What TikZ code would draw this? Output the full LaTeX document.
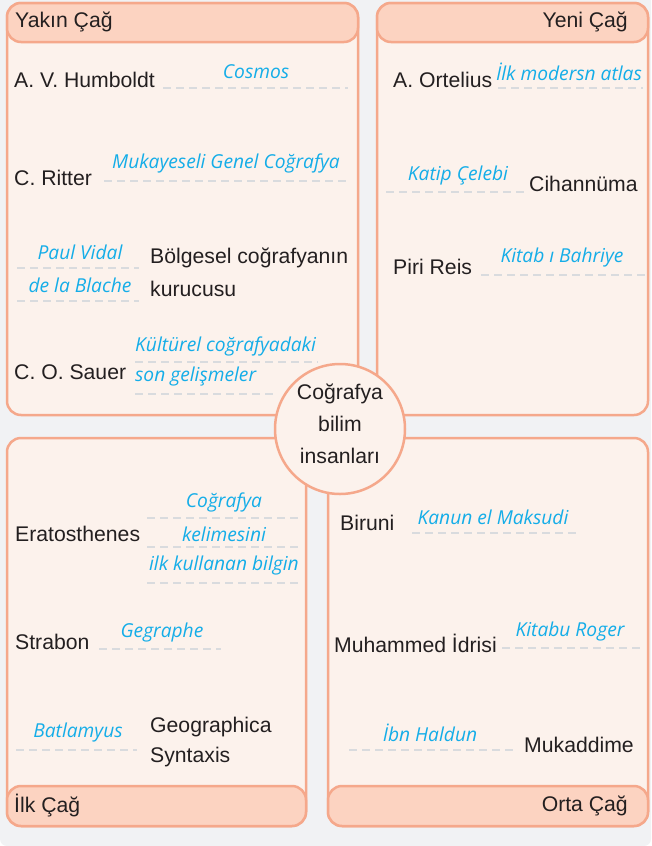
\documentclass[tikz,border=0pt]{standalone}
\usepackage{fontspec}
\setmainfont{Liberation Sans}
\newfontfamily\blufam{Open Sans}
\definecolor{bggray}{HTML}{F1F2F4}
\definecolor{salmon}{HTML}{F5A88B}
\definecolor{cream}{HTML}{FCF2EC}
\definecolor{peach}{HTML}{FCD3C1}
\definecolor{ink}{HTML}{231F20}
\definecolor{sky}{HTML}{14ADE8}
\definecolor{dashgray}{HTML}{D9DBDE}
\tikzset{
  panel/.style={draw=salmon, line width=2.5pt, fill=cream, rounded corners=14pt},
  header/.style={draw=salmon, line width=2.5pt, fill=peach, rounded corners=14pt},
  lbl/.style={font=\fontsize{21.2}{24}\selectfont, text=ink, inner sep=0pt, anchor=west},
  lblr/.style={font=\fontsize{21.2}{24}\selectfont, text=ink, inner sep=0pt, anchor=east},
  blu/.style={font=\blufam\itshape\fontsize{19.2}{22}\selectfont, text=sky, inner sep=0pt},
  dl/.style={draw=dashgray, line width=2pt, dash pattern=on 8pt off 5pt}
}
\begin{document}
\begin{tikzpicture}[x=1pt,y=-1pt]
\useasboundingbox (0,0) rectangle (651,846);
\fill[bggray, rounded corners=7pt] (0,-20) rectangle (651,846);

% ---------- panels ----------
\draw[panel] (7,3) rectangle (358,415);
\draw[header] (7,3) rectangle (358,42);
\draw[panel] (377,3) rectangle (648,415);
\draw[header] (377,3) rectangle (648,42);
\draw[panel] (7,438) rectangle (306,826);
\draw[header] (7,786) rectangle (306,826);
\draw[panel] (328,438) rectangle (648,826);
\draw[header] (328,786) rectangle (648,826);

\node[lbl] (h1) at (15,22) {Yakın Çağ};
\node[lblr] (h2) at (628,22) {Yeni Çağ};
\node[lbl] (h3) at (14,806) {İlk Çağ};
\node[lblr] (h4) at (628,806) {Orta Çağ};

% ---------- Yakın Çağ ----------
\node[lbl] (humb) at (14,80) {A. V. Humboldt};
\draw[dl] (163,88) -- (348,88);
\node[blu] (cosmos) at (256,72) {Cosmos};

\node[lbl] (ritter) at (14,178) {C. Ritter};
\draw[dl] (104,181) -- (346,181);
\node[blu] (muk) at (226,163) {Mukayeseli Genel Coğrafya};

\node[blu] (paul) at (80,252) {Paul Vidal};
\draw[dl] (17,268) -- (139,268);
\node[blu] (blache) at (80,285) {de la Blache};
\draw[dl] (17,301) -- (139,301);
\node[lbl] (bolg) at (150,258) {Bölgesel coğrafyanın};
\node[lbl] (kuru) at (150,289) {kurucusu};

\node[lbl] (sauer) at (14,372) {C. O. Sauer};
\node[blu, anchor=west] (kult) at (135,346) {Kültürel coğrafyadaki};
\draw[dl] (135,362) -- (318,362);
\node[blu, anchor=west] (son) at (135,377) {son gelişmeler};
\draw[dl] (135,394) -- (273,394);

% ---------- Yeni Çağ ----------
\node[lbl] (ortel) at (393,80) {A. Ortelius};
\draw[dl] (498,88) -- (643,88);
\node[blu] (ilkm) at (569,72) {İlk modersn atlas};

\node[blu] (katip) at (458,176) {Katip Çelebi};
\draw[dl] (386,192) -- (525,192);
\node[lbl] (cihan) at (529,184) {Cihannüma};

\node[lbl] (piri) at (393,267) {Piri Reis};
\draw[dl] (481,275) -- (645,275);
\node[blu] (kitab) at (562,258) {Kitab ı Bahriye};

% ---------- İlk Çağ ----------
\node[lbl] (erat) at (15,534) {Eratosthenes};
\node[blu] (cog) at (224,502) {Coğrafya};
\draw[dl] (147,518) -- (300,518);
\node[blu] (kel) at (224,534) {kelimesini};
\draw[dl] (147,547) -- (300,547);
\node[blu] (ilkk) at (224,566) {ilk kullanan bilgin};
\draw[dl] (147,583) -- (300,583);

\node[lbl] (strab) at (15,642) {Strabon};
\draw[dl] (99,649) -- (221,649);
\node[blu] (gegr) at (162,633) {Gegraphe};

\node[blu] (batl) at (78,733) {Batlamyus};
\draw[dl] (16,750) -- (137,750);
\node[lbl] (geogr) at (150,727) {Geographica};
\node[lbl] (synt) at (150,757) {Syntaxis};

% ---------- Orta Çağ ----------
\node[lbl] (biruni) at (340,523) {Biruni};
\draw[dl] (412,533) -- (576,533);
\node[blu] (kanun) at (493,517) {Kanun el Maksudi};

\node[lbl] (idrisi) at (334,643) {Muhammed İdrisi};
\draw[dl] (502,648) -- (640,648);
\node[blu] (roger) at (570,632) {Kitabu Roger};

\node[blu] (ibn) at (430,733) {İbn Haldun};
\draw[dl] (349,750) -- (513,750);
\node[lbl] (mukad) at (524,745) {Mukaddime};

% ---------- hub ----------
\node[circle, draw=salmon, line width=2.5pt, fill=cream, minimum size=130pt, inner sep=0pt] (hub) at (340,429) {};
\node[font=\fontsize{21.2}{32}\selectfont, text=ink, align=center, inner sep=0pt] (hubtxt) at (340,424) {Coğrafya\\bilim\\insanları};
\end{tikzpicture}
\end{document}
